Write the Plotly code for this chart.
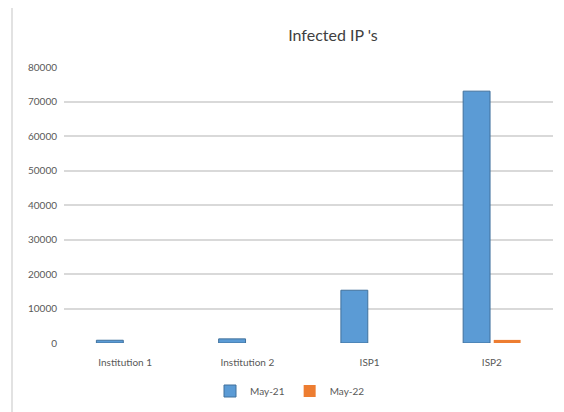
import plotly.graph_objects as go

categories = ["Institution 1", "Institution 2", "ISP1", "ISP2"]
may21 = [800, 1200, 15300, 73000]
may22 = [0, 0, 0, 900]
series_names = ["May-21", "May-22"]
y_ticks = [0, 10000, 20000, 30000, 40000, 50000, 60000, 70000, 80000]

# page is 564x412 but the html body has an 8px margin
OFF = 8
W, H = 564 - OFF, 412 - OFF
# plot area in page pixels: x 64..553, y 67..343
ml, mr, mt, mb = 64 - OFF, 564 - 553, 67 - OFF, 412 - 343
pw, ph = W - ml - mr, H - mt - mb

def px_to_paper_x(px):
    return (px - OFF - ml) / pw

def px_to_paper_y(py):
    return (H - mb - (py - OFF)) / ph

fig = go.Figure()
fig.add_trace(go.Bar(x=categories, y=may21, name=series_names[0],
                     marker=dict(color="#5B9BD5", line=dict(color="#41719C", width=1))))
fig.add_trace(go.Bar(x=categories, y=may22, name=series_names[1],
                     marker=dict(color="#ED7D31", line=dict(width=0))))

fig.update_layout(
    width=W, height=H,
    margin=dict(l=ml, r=mr, t=mt, b=mb, autoexpand=False),
    paper_bgcolor="white", plot_bgcolor="white",
    barmode="group", bargap=0.5, bargroupgap=0.12,
    title=dict(text="Infected IP 's", x=px_to_paper_x(333), xref="paper", xanchor="center",
               y=1 - (35 - OFF) / H, yanchor="middle",
               font=dict(family="Lato, Open Sans, sans-serif", size=16, color="#404040")),
    font=dict(family="Lato, Open Sans, sans-serif", size=10, color="#595959"),
    legend=dict(orientation="h", x=px_to_paper_x(290), xanchor="center",
                y=px_to_paper_y(391), yanchor="middle",
                font=dict(size=10, color="#595959"), itemwidth=30,
                traceorder="normal"),
    showlegend=True,
    shapes=[dict(type="rect", xref="paper", yref="paper",
                 x0=px_to_paper_x(12), x1=px_to_paper_x(570),
                 y0=px_to_paper_y(418), y1=px_to_paper_y(6),
                 line=dict(color="#D9D9D9", width=1.5), fillcolor="rgba(0,0,0,0)",
                 layer="below")],
)
fig.update_yaxes(range=[0, 80000], tickvals=y_ticks, tickformat="d",
                 showgrid=True, gridcolor="#D9D9D9", gridwidth=1.5,
                 zeroline=False, showline=False, ticks="", ticklabelstandoff=6,
                 tickfont=dict(size=10, color="#595959"))
fig.update_xaxes(showgrid=False, showline=False, ticks="", ticklabelstandoff=12,
                 tickfont=dict(size=10, color="#595959"))

fig.write_html("out.html")
